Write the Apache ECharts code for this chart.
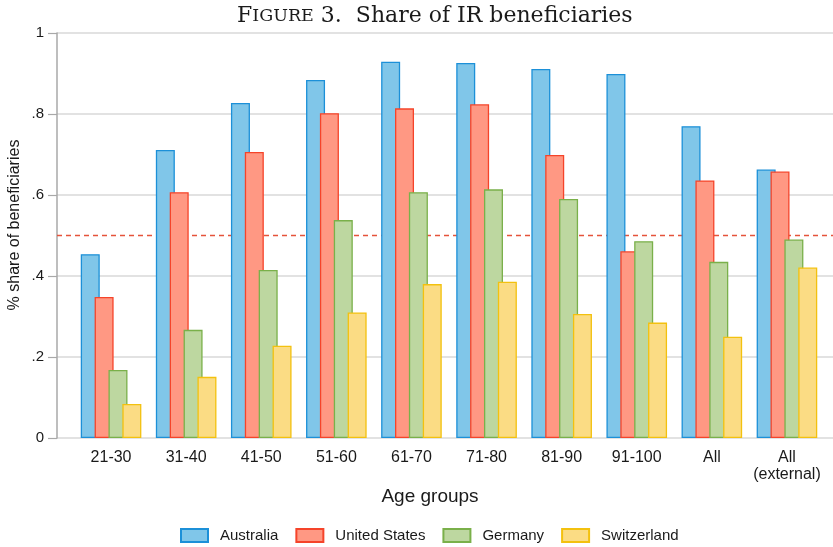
<!DOCTYPE html>
<html>
<head>
<meta charset="utf-8">
<script src="https://cdn.jsdelivr.net/npm/echarts@6/dist/echarts.min.js"></script>
<style>
  html, body { margin: 0; padding: 0; background: #ffffff; }
  #chart { width: 833px; height: 547px; }
</style>
</head>
<body>
<div id="chart"></div>
<script>
// Age groups on the horizontal axis
const categories = ['21-30', '31-40', '41-50', '51-60', '61-70', '71-80', '81-90', '91-100', 'All', 'All\n(external)'];

// Share of IR beneficiaries by country
const australia    = [0.454, 0.711, 0.827, 0.884, 0.929, 0.926, 0.911, 0.899, 0.770, 0.663];
const unitedStates = [0.348, 0.607, 0.706, 0.802, 0.814, 0.824, 0.699, 0.461, 0.636, 0.658];
const germany      = [0.168, 0.267, 0.415, 0.538, 0.607, 0.614, 0.590, 0.486, 0.435, 0.490];
const switzerland  = [0.084, 0.151, 0.228, 0.310, 0.380, 0.386, 0.306, 0.285, 0.250, 0.421];

const seriesNames = ['Australia', 'United States', 'Germany', 'Switzerland'];
const yTickLabels = ['0', '.2', '.4', '.6', '.8', '1'];
const referenceShare = 0.5;

const sans = '"Liberation Sans", Arial, sans-serif';
const serif = '"DejaVu Serif", "Liberation Serif", serif';
const ink = '#1a1a1a';

const palette = [
  { fill: '#80C6E9', edge: '#1C90D8' },
  { fill: '#FF9883', edge: '#F5442A' },
  { fill: '#BDD7A0', edge: '#7AB04A' },
  { fill: '#FBDC84', edge: '#F3C10F' }
];

const values = [australia, unitedStates, germany, switzerland];

const barSeries = values.map((data, i) => ({
  name: seriesNames[i],
  type: 'bar',
  xAxisIndex: 1,
  yAxisIndex: 1,
  data: data,
  barWidth: 19,
  barGap: '-27%',
  z: 3,
  itemStyle: {
    color: palette[i].fill,
    borderColor: palette[i].edge,
    borderWidth: 1.3
  },
  emphasis: { disabled: true }
}));

const chart = echarts.init(document.getElementById('chart'), null, { renderer: 'canvas' });

chart.setOption({
  animation: false,
  backgroundColor: '#ffffff',
  title: {
    text: '{big|F}{small|IGURE}{big| 3.  Share of IR beneficiaries}',
    left: 232,
    top: 0,
    textStyle: {
      fontWeight: 'normal',
      rich: {
        big: { fontFamily: serif, fontSize: 22, fontWeight: 'normal', color: ink },
        small: { fontFamily: serif, fontSize: 17.5, fontWeight: 'normal', color: ink }
      }
    }
  },
  grid: [
    { left: 57, top: 33, width: 776, height: 405, containLabel: false },
    { left: 73.5, top: 33, width: 751, height: 405, containLabel: false }
  ],
  xAxis: [
    { type: 'value', gridIndex: 0, min: 0, max: 1, show: false },
    {
      type: 'category',
      gridIndex: 1,
      data: categories,
      axisLine: { show: false },
      axisTick: { show: false },
      splitLine: { show: false },
      axisLabel: {
        margin: 11,
        fontFamily: sans,
        fontSize: 16,
        lineHeight: 17,
        color: ink,
        interval: 0
      }
    }
  ],
  yAxis: [
    {
      type: 'value',
      gridIndex: 0,
      min: 0,
      max: 1,
      interval: 0.2,
      axisLine: { show: true, lineStyle: { color: '#A8A8A8', width: 1.5 } },
      axisTick: { show: true, inside: false, length: 9, lineStyle: { color: '#A8A8A8', width: 1.2 } },
      splitLine: { show: true, lineStyle: { color: '#D9D9D9', width: 1.5 } },
      axisLabel: {
        margin: 13,
        fontFamily: sans,
        fontSize: 15,
        color: ink,
        formatter: (v) => yTickLabels[Math.round(v * 5)]
      }
    },
    { type: 'value', gridIndex: 1, min: 0, max: 1, show: false }
  ],
  legend: {
    data: seriesNames,
    left: 175,
    top: 523,
    icon: 'rect',
    itemWidth: 27,
    itemHeight: 13,
    itemGap: 17,
    selectedMode: false,
    textStyle: { fontFamily: sans, fontSize: 15, color: ink, padding: [0, 0, 0, 7] }
  },
  graphic: [
    {
      type: 'text',
      x: 15,
      y: 225,
      rotation: Math.PI / 2,
      style: {
        text: '% share of beneficiaries',
        fontFamily: sans,
        fontSize: 16,
        fill: ink,
        align: 'center',
        verticalAlign: 'middle'
      }
    },
    {
      type: 'text',
      x: 430,
      y: 497,
      style: {
        text: 'Age groups',
        fontFamily: sans,
        fontSize: 19,
        fill: ink,
        align: 'center',
        verticalAlign: 'middle'
      }
    }
  ],
  series: [
    {
      // dashed reference line at one half
      type: 'line',
      xAxisIndex: 0,
      yAxisIndex: 0,
      data: [[0, referenceShare], [1, referenceShare]],
      symbol: 'none',
      silent: true,
      z: 1,
      itemStyle: { color: '#E5533B' },
      lineStyle: { color: '#E5533B', width: 1.5, type: [5, 4] }
    }
  ].concat(barSeries)
});
</script>
</body>
</html>
